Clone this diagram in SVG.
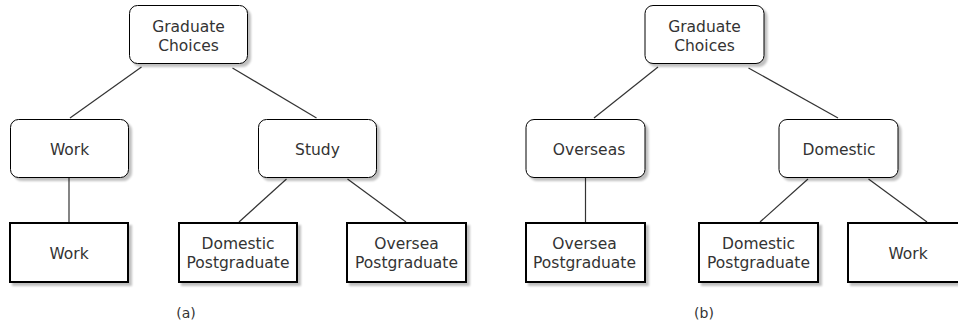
<svg xmlns="http://www.w3.org/2000/svg" width="958" height="330" viewBox="0 0 958 330">
<defs>
<filter id="sh" x="-10%" y="-10%" width="130%" height="130%">
<feGaussianBlur in="SourceAlpha" stdDeviation="0.8"/>
<feOffset dx="2.5" dy="2.5" result="o"/>
<feComponentTransfer><feFuncA type="linear" slope="0.25"/></feComponentTransfer>
<feMerge><feMergeNode/><feMergeNode in="SourceGraphic"/></feMerge>
</filter>
</defs>
<style>
.r{fill:#fff;stroke:#000;stroke-width:1;filter:url(#sh)}
.s{fill:#fff;stroke:#000;stroke-width:2;filter:url(#sh)}
.t{font-family:"DejaVu Sans",Verdana,sans-serif;font-size:15.5px;fill:#333;text-anchor:middle}
.c{stroke:#333;stroke-width:1.2;fill:none}
.l{font-family:"DejaVu Sans",Verdana,sans-serif;font-size:14px;fill:#333;text-anchor:middle}
</style>
<rect width="958" height="330" fill="#fff"/>
<g id="connectors">
<line class="c" x1="141.5" y1="67" x2="70" y2="118"/>
<line class="c" x1="232.5" y1="68" x2="316.5" y2="118"/>
<line class="c" x1="69" y1="178" x2="69" y2="222"/>
<line class="c" x1="286.5" y1="179" x2="239" y2="222"/>
<line class="c" x1="347.5" y1="179" x2="406" y2="222"/>
<line class="c" x1="658" y1="67" x2="594" y2="118"/>
<line class="c" x1="748.5" y1="68" x2="838" y2="118"/>
<line class="c" x1="585.5" y1="178" x2="585.5" y2="222"/>
<line class="c" x1="808" y1="179" x2="760" y2="222"/>
<line class="c" x1="868.5" y1="179" x2="927" y2="222"/>
</g>
<g id="a-root"><rect class="r" x="129.5" y="5.5" width="118" height="58" rx="8"/><text class="t" x="188.5" y="32">Graduate</text><text class="t" x="188.5" y="50.5">Choices</text></g>
<g id="a-work"><rect class="r" x="10.5" y="119.5" width="118" height="58" rx="8"/><text class="t" x="69.5" y="154.5">Work</text></g>
<g id="a-study"><rect class="r" x="258.5" y="119.5" width="118" height="58" rx="8"/><text class="t" x="317.5" y="154.5">Study</text></g>
<g id="a-work2"><rect class="s" x="10" y="223" width="118" height="59"/><text class="t" x="69" y="258.5">Work</text></g>
<g id="a-dom"><rect class="s" x="179" y="223" width="118" height="59"/><text class="t" x="238" y="249">Domestic</text><text class="t" x="238" y="267.5">Postgraduate</text></g>
<g id="a-ovs"><rect class="s" x="347" y="223" width="119" height="59"/><text class="t" x="406.5" y="249">Oversea</text><text class="t" x="406.5" y="267.5">Postgraduate</text></g>
<g id="b-root"><rect class="r" x="645" y="5.5" width="119" height="58" rx="8"/><text class="t" x="704.5" y="32">Graduate</text><text class="t" x="704.5" y="50.5">Choices</text></g>
<g id="b-overseas"><rect class="r" x="526" y="119.5" width="119" height="58" rx="8"/><text class="t" x="589" y="154.5">Overseas</text></g>
<g id="b-domestic"><rect class="r" x="779" y="119.5" width="119" height="58" rx="8"/><text class="t" x="839" y="154.5">Domestic</text></g>
<g id="b-ovs"><rect class="s" x="526" y="223" width="119" height="59"/><text class="t" x="584.5" y="249">Oversea</text><text class="t" x="584.5" y="267.5">Postgraduate</text></g>
<g id="b-dom"><rect class="s" x="699" y="223" width="119" height="59"/><text class="t" x="758.5" y="249">Domestic</text><text class="t" x="758.5" y="267.5">Postgraduate</text></g>
<g id="b-work"><rect class="s" x="848" y="223" width="120" height="59"/><text class="t" x="908" y="258.5">Work</text></g>
<text class="l" x="186" y="318">(a)</text>
<text class="l" x="704" y="318">(b)</text>
</svg>
